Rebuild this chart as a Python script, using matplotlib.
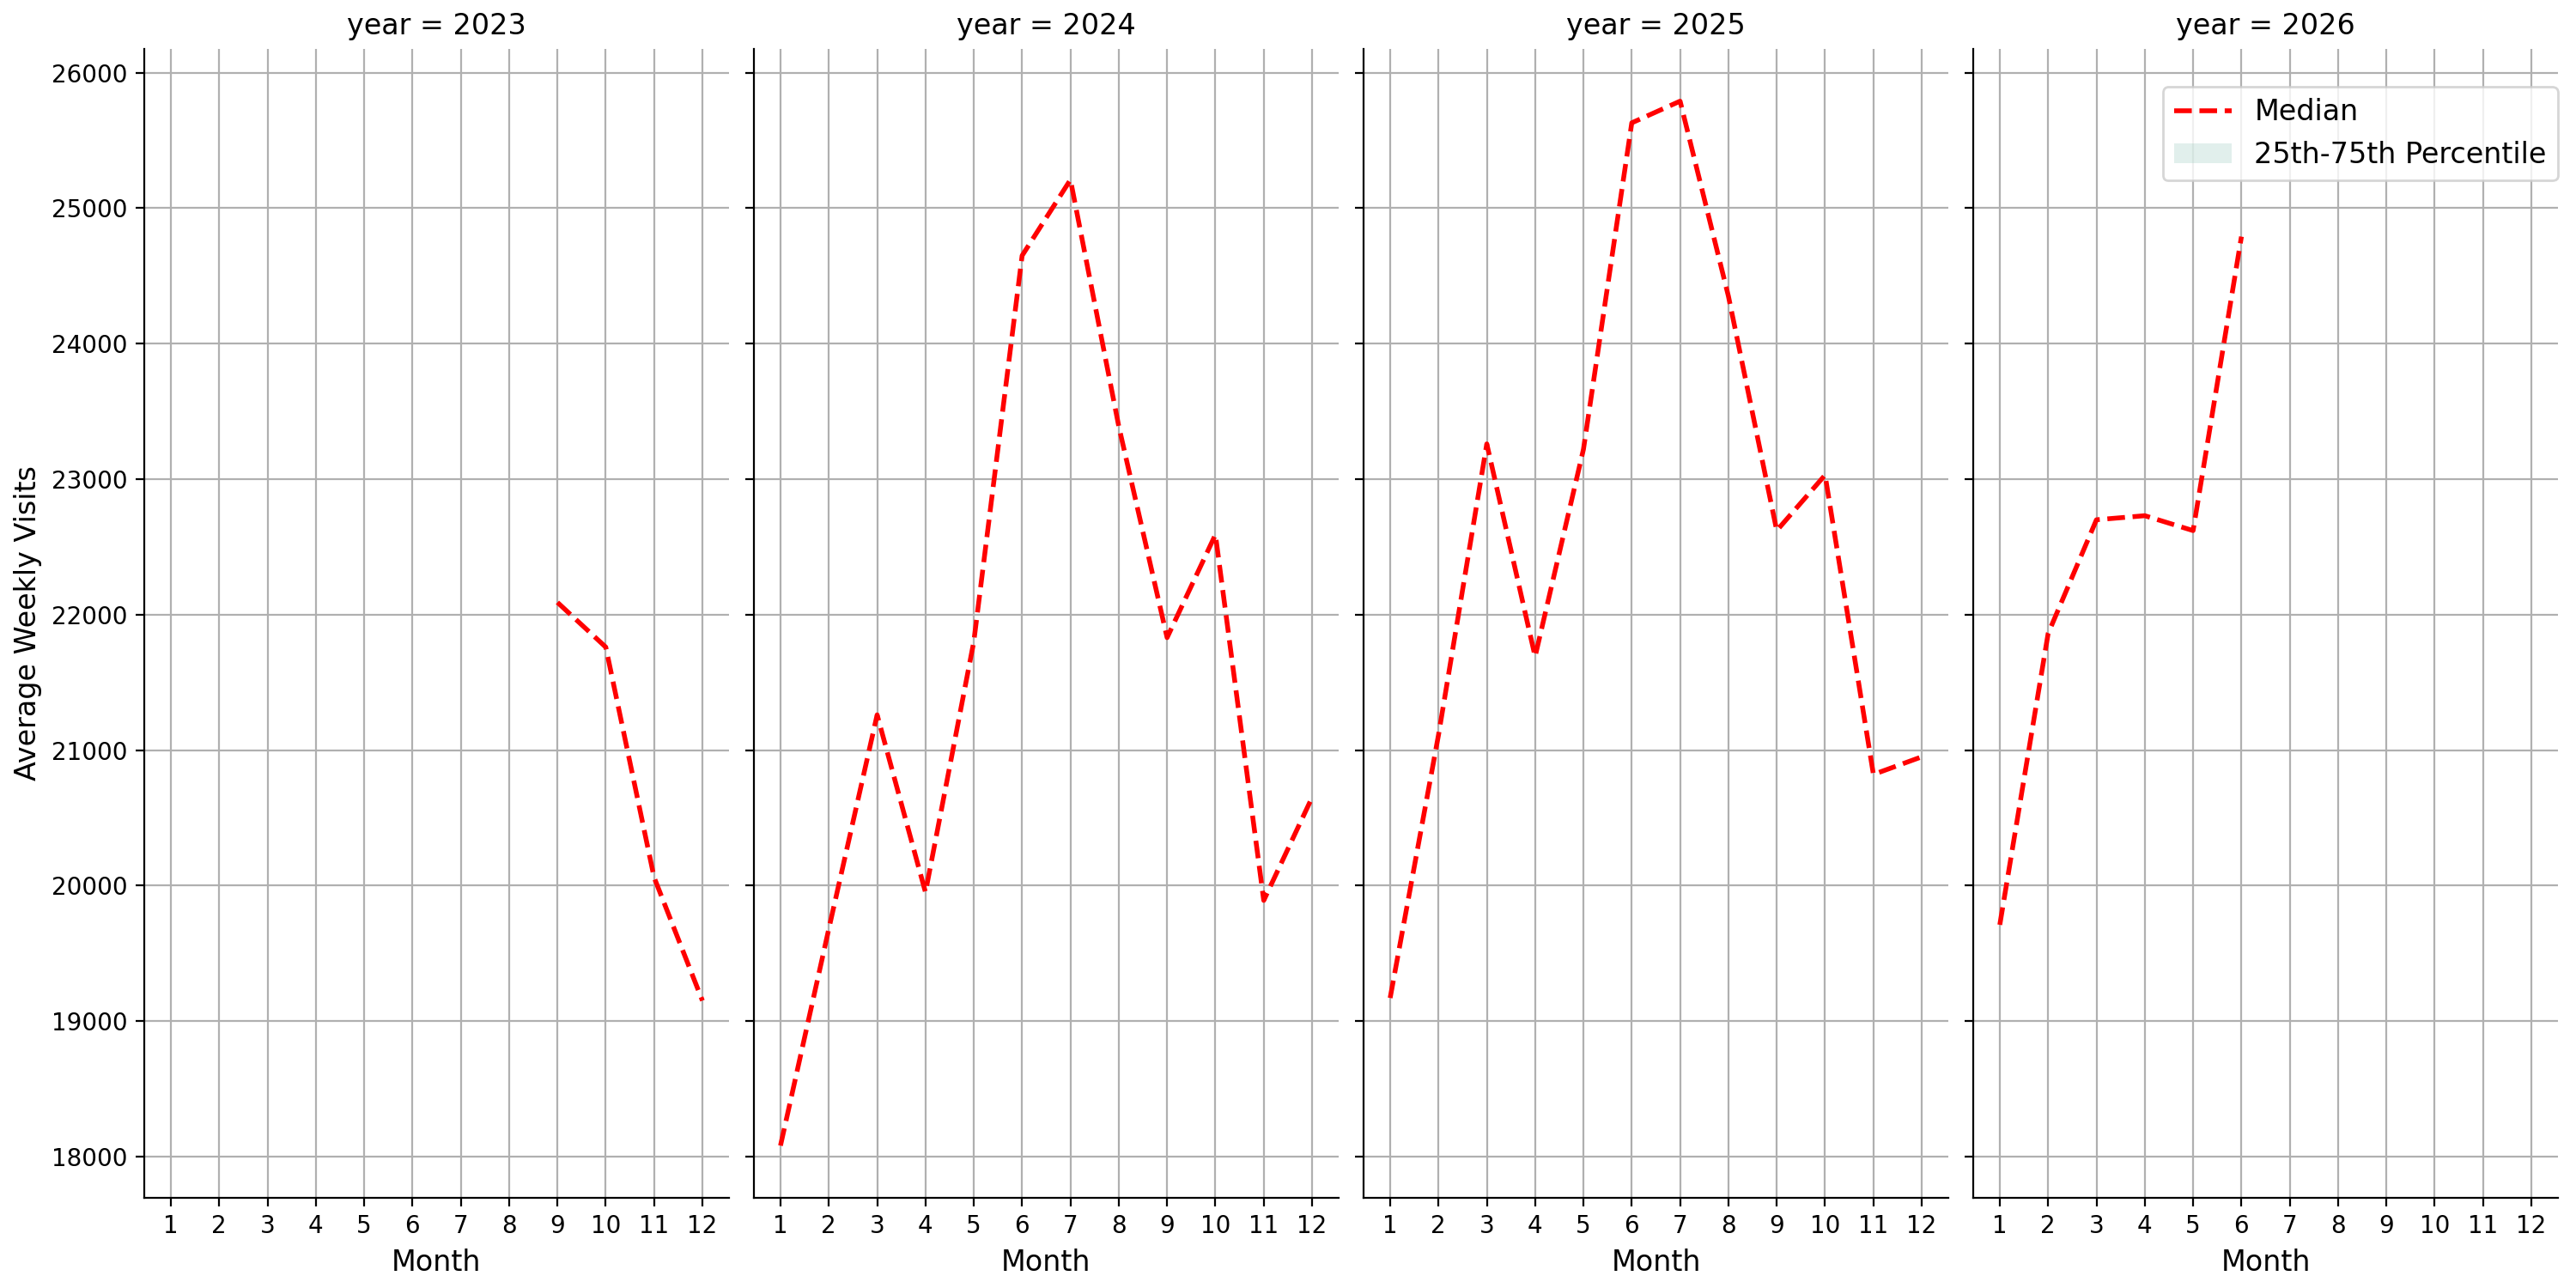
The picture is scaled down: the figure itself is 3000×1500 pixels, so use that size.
import matplotlib.pyplot as plt
import numpy as np
from matplotlib.patches import Patch

# median weekly visits per month, one list per year
years = [2023, 2024, 2025, 2026]
months_2023 = [9, 10, 11, 12]
median_2023 = [22090, 21760, 20060, 19150]
months_2024 = list(range(1, 13))
median_2024 = [18080, 19680, 21260, 19950, 21800, 24650, 25210,
               23390, 21830, 22590, 19890, 20650]
months_2025 = list(range(1, 13))
median_2025 = [19170, 21110, 23260, 21690, 23220, 25630, 25790,
               24350, 22620, 23030, 20820, 20950]
months_2026 = [1, 2, 3, 4, 5, 6]
median_2026 = [19710, 21860, 22700, 22730, 22620, 24790]

series = {
    2023: (months_2023, median_2023),
    2024: (months_2024, median_2024),
    2025: (months_2025, median_2025),
    2026: (months_2026, median_2026),
}

band_color = '#69b3a2'

fig, axes = plt.subplots(1, 4, figsize=(15, 7.5), dpi=200, sharex=True, sharey=True)
fig.subplots_adjust(left=0.056, right=0.993, top=0.962, bottom=0.07, wspace=0.0426)

for ax, year in zip(axes, years):
    m, med = series[year]
    ax.plot(m, med, color='red', linestyle='--', linewidth=2, label='Median')
    ax.set_title(f'year = {year}', fontsize=12)
    ax.set_xlabel('Month', fontsize=12)
    ax.set_xticks(np.arange(1, 13))
    ax.tick_params(labelsize=10)
    ax.grid(True, color='#b0b0b0', linewidth=0.8)
    ax.set_axisbelow(True)
    ax.spines['top'].set_visible(False)
    ax.spines['right'].set_visible(False)

axes[0].set_ylabel('Average Weekly Visits', fontsize=12)

handles, labels = axes[-1].get_legend_handles_labels()
handles.append(Patch(facecolor=band_color, alpha=0.2, edgecolor='none'))
labels.append('25th-75th Percentile')
axes[-1].legend(handles, labels, loc='upper right', bbox_to_anchor=(1.0, 0.967),
                borderaxespad=0, fontsize=12)

plt.savefig('out.png')
